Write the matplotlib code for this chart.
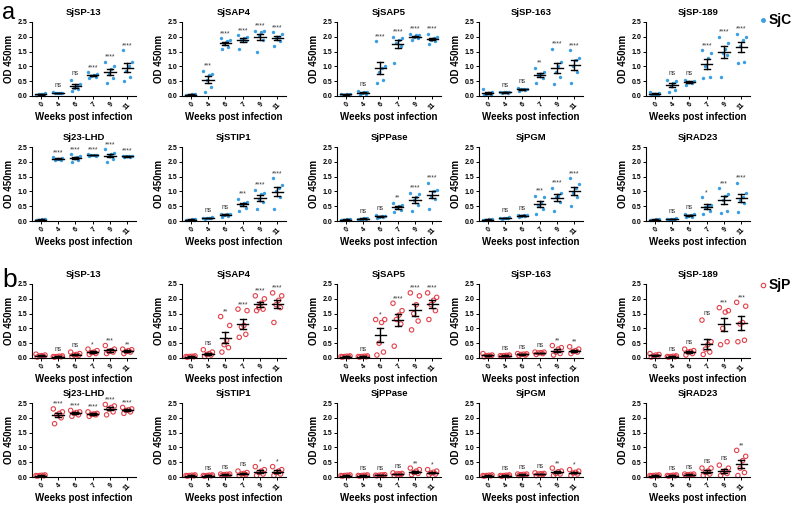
import numpy as np
import matplotlib
matplotlib.use('Agg')
import matplotlib.pyplot as plt
from matplotlib.lines import Line2D

plt.rcParams['font.family'] = ['Liberation Sans', 'DejaVu Sans']

weeks = ['0', '4', '6', '7', '9', '11']
antigens_top = ['SjSP-13', 'SjSAP4', 'SjSAP5', 'SjSP-163', 'SjSP-189']
antigens_bottom = ['Sj23-LHD', 'SjSTIP1', 'SjPPase', 'SjPGM', 'SjRAD23']

# ---------------- SjC (panel a) ----------------
sjc_sp13 = [[0.03, 0.05, 0.06, 0.08, 0.1, 0.04], [0.09, 0.1, 0.1, 0.11, 0.1, 0.12],
            [0.18, 0.22, 0.28, 0.35, 0.42, 0.55], [0.6, 0.65, 0.68, 0.7, 0.75, 0.8],
            [0.45, 0.6, 0.75, 0.9, 1.0, 1.15], [0.5, 0.65, 0.85, 1.0, 1.15, 1.55]]
sjc_sap4 = [[0.03, 0.04, 0.05, 0.06, 0.07, 0.05], [0.15, 0.3, 0.55, 0.7, 0.75, 0.85],
            [1.6, 1.65, 1.75, 1.85, 1.9, 1.95], [1.6, 1.85, 1.9, 1.95, 2.0, 2.05],
            [1.5, 1.9, 2.05, 2.15, 2.2, 2.2], [1.7, 1.85, 1.95, 2.0, 2.1, 2.15]]
sjc_sap5 = [[0.03, 0.04, 0.05, 0.06, 0.07, 0.08], [0.05, 0.08, 0.1, 0.12, 0.15, 0.18],
            [0.45, 0.55, 0.8, 0.95, 1.0, 1.85], [1.1, 1.7, 1.8, 1.9, 1.95, 2.0],
            [1.9, 1.95, 2.0, 2.05, 2.05, 2.1], [1.75, 1.85, 1.9, 1.95, 2.0, 2.1]]
sjc_sp163 = [[0.03, 0.05, 0.08, 0.1, 0.12, 0.25], [0.1, 0.11, 0.12, 0.13, 0.12, 0.14],
             [0.18, 0.2, 0.22, 0.23, 0.25, 0.28], [0.45, 0.6, 0.7, 0.75, 0.8, 0.95],
             [0.4, 0.65, 0.8, 1.0, 1.15, 1.6], [0.45, 0.8, 1.0, 1.2, 1.3, 1.55]]
sjc_sp189 = [[0.04, 0.05, 0.07, 0.08, 0.1, 0.12], [0.15, 0.2, 0.35, 0.45, 0.5, 0.55],
             [0.38, 0.45, 0.47, 0.48, 0.5, 0.55], [0.6, 0.65, 1.0, 1.3, 1.45, 1.55],
             [0.65, 1.4, 1.45, 1.6, 1.8, 2.0], [1.1, 1.15, 1.7, 1.9, 2.0, 2.1]]
sjc_lhd = [[0.03, 0.04, 0.05, 0.06, 0.07, 0.05], [2.05, 2.07, 2.1, 2.1, 2.12, 2.15],
           [2.0, 2.05, 2.12, 2.15, 2.2, 2.25], [2.2, 2.21, 2.22, 2.23, 2.24, 2.25],
           [2.0, 2.1, 2.2, 2.25, 2.3, 2.42], [2.15, 2.17, 2.18, 2.19, 2.2, 2.2]]
sjc_stip1 = [[0.03, 0.04, 0.05, 0.06, 0.07, 0.05], [0.08, 0.09, 0.1, 0.11, 0.12, 0.1],
             [0.15, 0.18, 0.2, 0.22, 0.23, 0.25], [0.35, 0.45, 0.55, 0.6, 0.65, 0.75],
             [0.4, 0.65, 0.75, 0.9, 0.95, 1.05], [0.4, 0.8, 1.0, 1.1, 1.2, 1.45]]
sjc_ppase = [[0.03, 0.04, 0.05, 0.06, 0.07, 0.05], [0.06, 0.07, 0.08, 0.09, 0.1, 0.08],
             [0.1, 0.12, 0.15, 0.17, 0.18, 0.2], [0.3, 0.38, 0.45, 0.5, 0.55, 0.62],
             [0.35, 0.55, 0.7, 0.8, 0.9, 0.95], [0.4, 0.75, 0.85, 1.0, 1.05, 1.3]]
sjc_pgm = [[0.03, 0.04, 0.05, 0.06, 0.07, 0.05], [0.08, 0.09, 0.1, 0.11, 0.12, 0.1],
           [0.14, 0.16, 0.18, 0.19, 0.2, 0.21], [0.25, 0.4, 0.55, 0.6, 0.8, 0.85],
           [0.35, 0.65, 0.8, 0.85, 0.95, 1.13], [0.5, 0.8, 0.95, 1.1, 1.25, 1.45]]
sjc_rad23 = [[0.03, 0.04, 0.05, 0.06, 0.07, 0.05], [0.05, 0.06, 0.07, 0.08, 0.09, 0.07],
             [0.12, 0.15, 0.18, 0.2, 0.22, 0.25], [0.22, 0.35, 0.48, 0.52, 0.55, 0.8],
             [0.28, 0.35, 0.7, 0.85, 0.9, 1.1], [0.3, 0.6, 0.7, 0.8, 0.95, 1.3]]

sig_sjc_sp13 = ['', 'ns', 'ns', '****', '****', '****']
sig_sjc_sap4 = ['', '***', '****', '****', '****', '****']
sig_sjc_sap5 = ['', 'ns', '****', '****', '****', '****']
sig_sjc_sp163 = ['', 'ns', 'ns', '**', '****', '****']
sig_sjc_sp189 = ['', 'ns', 'ns', '****', '****', '****']
sig_sjc_lhd = ['', '****', '****', '****', '****', '****']
sig_sjc_stip1 = ['', 'ns', 'ns', '***', '****', '****']
sig_sjc_ppase = ['', 'ns', 'ns', '**', '****', '****']
sig_sjc_pgm = ['', 'ns', 'ns', '***', '****', '****']
sig_sjc_rad23 = ['', 'ns', 'ns', '*', '***', '****']

# ---------------- SjP (panel b) ----------------
sjp_sp13 = [[0.03, 0.05, 0.07, 0.08, 0.1, 0.13], [0.03, 0.04, 0.05, 0.06, 0.07, 0.05],
            [0.05, 0.08, 0.1, 0.12, 0.15, 0.2], [0.12, 0.15, 0.18, 0.2, 0.25, 0.3],
            [0.15, 0.2, 0.22, 0.25, 0.3, 0.42], [0.15, 0.2, 0.22, 0.25, 0.28, 0.3]]
sjp_sap4 = [[0.03, 0.04, 0.05, 0.06, 0.07, 0.05], [0.05, 0.1, 0.12, 0.15, 0.2, 0.28],
            [0.2, 0.35, 0.45, 0.6, 1.1, 1.4], [0.7, 0.8, 1.05, 1.1, 1.6, 1.65],
            [1.6, 1.65, 1.7, 1.85, 2.0, 2.1], [1.2, 1.7, 1.8, 1.95, 2.1, 2.2]]
sjp_sap5 = [[0.03, 0.04, 0.05, 0.06, 0.07, 0.05], [0.03, 0.04, 0.05, 0.06, 0.07, 0.05],
            [0.1, 0.2, 0.5, 1.2, 1.3, 1.3], [0.4, 1.15, 1.3, 1.45, 1.6, 1.85],
            [0.95, 1.25, 1.5, 1.8, 2.1, 2.2], [1.3, 1.6, 1.8, 1.95, 2.05, 2.2]]
sjp_sp163 = [[0.04, 0.06, 0.08, 0.09, 0.1, 0.15], [0.05, 0.07, 0.08, 0.09, 0.1, 0.08],
             [0.08, 0.1, 0.12, 0.13, 0.14, 0.15], [0.12, 0.15, 0.17, 0.18, 0.2, 0.2],
             [0.1, 0.15, 0.2, 0.3, 0.35, 0.42], [0.15, 0.2, 0.22, 0.25, 0.3, 0.38]]
sjp_sp189 = [[0.03, 0.05, 0.07, 0.1, 0.12, 0.15], [0.03, 0.04, 0.05, 0.06, 0.07, 0.05],
             [0.1, 0.15, 0.2, 0.22, 0.25, 0.3], [0.12, 0.2, 0.3, 0.45, 0.55, 1.28],
             [0.45, 0.55, 1.0, 1.55, 1.6, 1.7], [0.55, 0.6, 1.15, 1.2, 1.75, 1.88]]
sjp_lhd = [[0.03, 0.04, 0.05, 0.06, 0.07, 0.05], [1.8, 2.0, 2.1, 2.15, 2.2, 2.3],
           [2.05, 2.1, 2.15, 2.18, 2.2, 2.25], [2.05, 2.1, 2.12, 2.13, 2.15, 2.2],
           [2.1, 2.2, 2.3, 2.35, 2.4, 2.45], [2.15, 2.2, 2.25, 2.27, 2.3, 2.35]]
sjp_stip1 = [[0.03, 0.04, 0.05, 0.06, 0.07, 0.05], [0.03, 0.04, 0.05, 0.06, 0.07, 0.05],
             [0.05, 0.06, 0.08, 0.09, 0.1, 0.1], [0.05, 0.08, 0.1, 0.12, 0.15, 0.2],
             [0.05, 0.1, 0.15, 0.2, 0.25, 0.35], [0.05, 0.1, 0.15, 0.2, 0.25, 0.35]]
sjp_ppase = [[0.03, 0.04, 0.05, 0.06, 0.07, 0.05], [0.03, 0.04, 0.05, 0.06, 0.07, 0.05],
             [0.04, 0.05, 0.06, 0.07, 0.08, 0.06], [0.05, 0.08, 0.1, 0.11, 0.12, 0.14],
             [0.08, 0.12, 0.15, 0.2, 0.25, 0.3], [0.07, 0.1, 0.13, 0.16, 0.2, 0.25]]
sjp_pgm = [[0.03, 0.04, 0.05, 0.06, 0.07, 0.05], [0.03, 0.04, 0.05, 0.06, 0.07, 0.05],
           [0.05, 0.06, 0.08, 0.09, 0.1, 0.1], [0.05, 0.08, 0.1, 0.11, 0.12, 0.14],
           [0.05, 0.1, 0.12, 0.18, 0.2, 0.3], [0.05, 0.1, 0.13, 0.16, 0.2, 0.25]]
sjp_rad23 = [[0.03, 0.04, 0.05, 0.06, 0.07, 0.05], [0.03, 0.04, 0.05, 0.06, 0.07, 0.05],
             [0.05, 0.06, 0.08, 0.09, 0.1, 0.1], [0.05, 0.1, 0.15, 0.2, 0.3, 0.3],
             [0.05, 0.12, 0.15, 0.2, 0.3, 0.4], [0.05, 0.15, 0.3, 0.55, 0.7, 0.9]]

sig_sjp_sp13 = ['', 'ns', 'ns', '*', '***', '**']
sig_sjp_sap4 = ['', 'ns', '**', '****', '****', '****']
sig_sjp_sap5 = ['', 'ns', '*', '****', '****', '****']
sig_sjp_sp163 = ['', 'ns', 'ns', 'ns', '**', '**']
sig_sjp_sp189 = ['', 'ns', 'ns', 'ns', '***', '***']
sig_sjp_lhd = ['', '****', '****', '****', '****', '****']
sig_sjp_stip1 = ['', 'ns', 'ns', 'ns', '*', '*']
sig_sjp_ppase = ['', 'ns', 'ns', 'ns', '**', '*']
sig_sjp_pgm = ['', 'ns', 'ns', 'ns', '**', '*']
sig_sjp_rad23 = ['', 'ns', 'ns', 'ns', 'ns', '**']

rows = [
    ('sjc', antigens_top, [sjc_sp13, sjc_sap4, sjc_sap5, sjc_sp163, sjc_sp189],
     [sig_sjc_sp13, sig_sjc_sap4, sig_sjc_sap5, sig_sjc_sp163, sig_sjc_sp189]),
    ('sjc', antigens_bottom, [sjc_lhd, sjc_stip1, sjc_ppase, sjc_pgm, sjc_rad23],
     [sig_sjc_lhd, sig_sjc_stip1, sig_sjc_ppase, sig_sjc_pgm, sig_sjc_rad23]),
    ('sjp', antigens_top, [sjp_sp13, sjp_sap4, sjp_sap5, sjp_sp163, sjp_sp189],
     [sig_sjp_sp13, sig_sjp_sap4, sig_sjp_sap5, sig_sjp_sp163, sig_sjp_sp189]),
    ('sjp', antigens_bottom, [sjp_lhd, sjp_stip1, sjp_ppase, sjp_pgm, sjp_rad23],
     [sig_sjp_lhd, sig_sjp_stip1, sig_sjp_ppase, sig_sjp_pgm, sig_sjp_rad23]),
]

BLUE = '#3a9fe2'
RED = '#e4404a'
W, H = 798, 512
fig = plt.figure(figsize=(W / 100, H / 100), dpi=100)

col_left_px = [32, 182, 337, 479, 646]
row_top_px = [22, 147, 284, 403]
ax_w_px, ax_h_px = 104, 74
jitter = [-0.22, 0.2, -0.08, 0.08, 0.28, -0.3]

for r, (grp, names, datasets, sigs) in enumerate(rows):
    for c in range(5):
        left = col_left_px[c] / W
        bottom = 1 - (row_top_px[r] + ax_h_px) / H
        ax = fig.add_axes([left, bottom, ax_w_px / W, ax_h_px / H])
        data = datasets[c]
        for i, vals in enumerate(data):
            v = np.array(vals)
            xs = i + np.array(jitter[:len(v)]) * 0.9
            if grp == 'sjc':
                ax.scatter(xs, v, s=6, color=BLUE, lw=0, zorder=2, clip_on=False)
            else:
                ax.scatter(xs, v, s=10, facecolor='none', edgecolor=RED, lw=0.8,
                           zorder=2, clip_on=False)
            m = v.mean()
            se = v.std(ddof=1) / np.sqrt(len(v))
            ax.plot([i - 0.32, i + 0.32], [m, m], color='black', lw=1.0, zorder=3,
                    clip_on=False)
            ax.plot([i, i], [m - se, m + se], color='black', lw=1.0, zorder=3, clip_on=False)
            for yy in (m - se, m + se):
                ax.plot([i - 0.17, i + 0.17], [yy, yy], color='black', lw=1.0, zorder=3,
                        clip_on=False)
            lab = sigs[c][i]
            if lab:
                off = 0.1 if lab == 'ns' else 0.04
                ax.text(i, v.max() + off, lab, ha='center', va='bottom', fontsize=4.8,
                        color='#333333')
        ax.set_xlim(-0.5, 5.5)
        ax.set_ylim(0, 2.5)
        ax.set_yticks(np.arange(0, 2.51, 0.5))
        ax.set_yticklabels([f'{t:.1f}' for t in np.arange(0, 2.51, 0.5)],
                           fontsize=5, fontweight='bold')
        ax.set_xticks(range(len(weeks)))
        ax.set_xticklabels(weeks, fontsize=5, fontweight='bold', rotation=45,
                           ha='right', rotation_mode='anchor')
        ax.tick_params(axis='both', length=2, width=0.7, pad=1.5)
        for s in ('top', 'right'):
            ax.spines[s].set_visible(False)
        for s in ('left', 'bottom'):
            ax.spines[s].set_linewidth(0.8)
        ax.set_title(names[c], fontsize=6.8, fontweight='bold', pad=5)
        ax.set_ylabel('OD 450nm', fontsize=7, fontweight='bold', labelpad=2)
        ax.set_xlabel('Weeks post infection', fontsize=7, fontweight='bold', labelpad=1)

fig.text(0.003, 1 - 19 / H, 'a', fontsize=17, va='baseline', ha='left')
fig.text(0.003, 1 - 287 / H, 'b', fontsize=19, va='baseline', ha='left')

fig.add_artist(Line2D([763 / W], [1 - 20 / H], marker='o', markersize=2.5, color=BLUE,
                      lw=0, transform=fig.transFigure))
fig.text(769 / W, 1 - 20 / H, 'SjC', fontsize=10, fontweight='bold', va='center', ha='left')
fig.add_artist(Line2D([763 / W], [1 - 285 / H], marker='o', markersize=3.2,
                      markerfacecolor='none', markeredgecolor=RED, markeredgewidth=0.8,
                      lw=0, transform=fig.transFigure))
fig.text(769 / W, 1 - 285 / H, 'SjP', fontsize=10, fontweight='bold', va='center', ha='left')

fig.savefig('out.png', dpi=100)
